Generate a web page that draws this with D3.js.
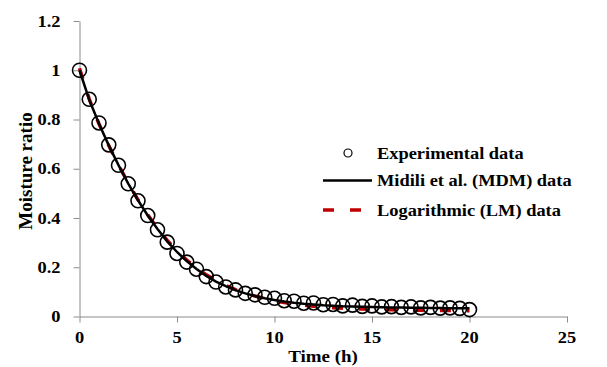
<!DOCTYPE html>
<html>
<head>
  <meta charset="utf-8">
  <script src="https://d3js.org/d3.v7.min.js"></script>
  <style>
    body { margin: 0; background: #fff; }
    text { font-family: "Liberation Serif", "Times New Roman", serif; font-weight: bold; fill: #000; }
    .axis path, .axis line { stroke: #8c8c8c; stroke-width: 1px; }
  </style>
</head>
<body>
  <svg width="607" height="367"></svg>

  <script>
    // time points (h), every half hour
    const times = [0, 0.5, 1, 1.5, 2, 2.5, 3, 3.5, 4, 4.5, 5, 5.5, 6, 6.5, 7, 7.5, 8, 8.5, 9, 9.5, 10,
      10.5, 11, 11.5, 12, 12.5, 13, 13.5, 14, 14.5, 15, 15.5, 16, 16.5, 17, 17.5, 18, 18.5, 19, 19.5, 20];

    const experimental = [1.000, 0.882, 0.786, 0.697, 0.614, 0.539, 0.470, 0.410, 0.352, 0.302, 0.256,
      0.221, 0.192, 0.162, 0.140, 0.120, 0.108, 0.094, 0.088, 0.078, 0.074, 0.064, 0.062, 0.054, 0.055,
      0.048, 0.049, 0.043, 0.046, 0.041, 0.043, 0.039, 0.040, 0.037, 0.039, 0.035, 0.037, 0.034, 0.035, 0.033, 0.028];

    const midili = [1.000, 0.880, 0.783, 0.695, 0.615, 0.540, 0.472, 0.410, 0.355, 0.305, 0.262,
      0.225, 0.193, 0.165, 0.142, 0.123, 0.107, 0.094, 0.083, 0.074, 0.067, 0.061, 0.056, 0.052, 0.049,
      0.046, 0.044, 0.042, 0.041, 0.040, 0.039, 0.038, 0.037, 0.037, 0.036, 0.036, 0.035, 0.035, 0.034, 0.034, 0.033];

    const logarithmic = [1.008, 0.883, 0.782, 0.694, 0.615, 0.542, 0.474, 0.413, 0.358, 0.309, 0.266,
      0.229, 0.197, 0.169, 0.146, 0.126, 0.109, 0.095, 0.083, 0.073, 0.064, 0.057, 0.051, 0.046, 0.042,
      0.039, 0.036, 0.034, 0.032, 0.030, 0.029, 0.028, 0.027, 0.026, 0.025, 0.025, 0.024, 0.024, 0.024, 0.023, 0.023];

    const xTicks = [0, 5, 10, 15, 20, 25];
    const yTicks = [0, 0.2, 0.4, 0.6, 0.8, 1, 1.2];
    const legendLabels = ["Experimental data", "Midili et al. (MDM) data", "Logarithmic (LM) data"];

    const svg = d3.select("svg");
    const stretch = 1.15; // text in the original is a bit wide

    const x = d3.scaleLinear().domain([0, 25]).range([79.5, 567]);
    const y = d3.scaleLinear().domain([0, 1.2]).range([316.5, 21]);

    const xAxis = svg.append("g")
      .attr("class", "axis")
      .attr("transform", "translate(0,316.5)")
      .call(d3.axisBottom(x).tickValues(xTicks).tickSize(6).tickSizeOuter(0).tickFormat(d3.format("d")));
    xAxis.selectAll("text").remove();

    const yAxis = svg.append("g")
      .attr("class", "axis")
      .attr("transform", "translate(79.5,0)")
      .call(d3.axisLeft(y).tickValues(yTicks).tickSize(6).tickSizeOuter(0));
    yAxis.selectAll("text").remove();

    function label(px, py, str, anchor, size) {
      svg.append("text")
        .attr("transform", `translate(${px},${py}) scale(${stretch},1)`)
        .attr("text-anchor", anchor)
        .style("font-size", size + "px")
        .text(str);
    }

    xTicks.forEach(d => label(x(d), 343, d, "middle", 16));
    yTicks.forEach(d => label(60.5, y(d) + 5.5, d, "end", 16));

    label(323, 362, "Time (h)", "middle", 16.5);

    svg.append("text")
      .attr("transform", "translate(32,171) rotate(-90)")
      .attr("text-anchor", "middle")
      .style("font-size", "19px")
      .text("Moisture ratio");

    const pts = times.map((t, i) => ({ t: t, e: experimental[i], m: midili[i], l: logarithmic[i] }));

    svg.append("path")
      .datum(pts)
      .attr("fill", "none")
      .attr("stroke", "#c00000")
      .attr("stroke-width", 3.5)
      .attr("stroke-dasharray", "11,16")
      .attr("d", d3.line().x(d => x(d.t)).y(d => y(d.l)));

    svg.append("path")
      .datum(pts)
      .attr("fill", "none")
      .attr("stroke", "#000")
      .attr("stroke-width", 2.5)
      .attr("d", d3.line().x(d => x(d.t)).y(d => y(d.m)));

    svg.selectAll("circle.exp")
      .data(pts)
      .enter().append("circle")
      .attr("class", "exp")
      .attr("cx", d => x(d.t))
      .attr("cy", d => y(d.e))
      .attr("r", 7)
      .attr("fill", "none")
      .attr("stroke", "#000")
      .attr("stroke-width", 1.6);

    // legend
    const lg = svg.append("g");
    lg.append("circle")
      .attr("cx", 348).attr("cy", 153)
      .attr("r", 4)
      .attr("fill", "none")
      .attr("stroke", "#000")
      .attr("stroke-width", 1.2);
    lg.append("line")
      .attr("x1", 323).attr("x2", 372).attr("y1", 180.5).attr("y2", 180.5)
      .attr("stroke", "#000").attr("stroke-width", 2.5);
    lg.append("line")
      .attr("x1", 323).attr("x2", 362).attr("y1", 210).attr("y2", 210)
      .attr("stroke", "#c00000").attr("stroke-width", 3.5)
      .attr("stroke-dasharray", "11,16");

    label(377, 158.5, legendLabels[0], "start", 16);
    label(377, 186, legendLabels[1], "start", 16);
    label(377, 215.5, legendLabels[2], "start", 16);
  </script>
</body>
</html>
